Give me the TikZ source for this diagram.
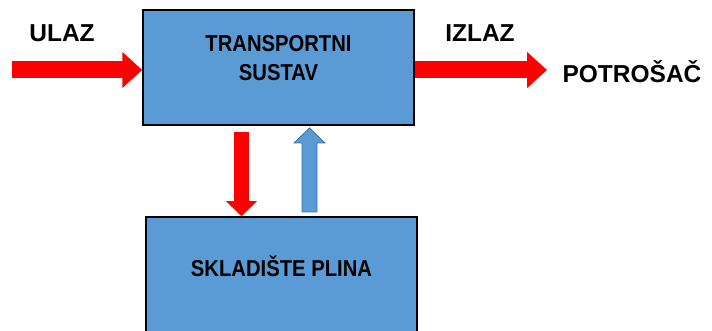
\documentclass[tikz,border=0pt]{standalone}
\usepackage{fontspec}
\setmainfont{Liberation Sans}
\newfontfamily\boxfont{Liberation Sans}[FakeStretch=0.88]
\usetikzlibrary{calc,arrows.meta}

\definecolor{boxblue}{HTML}{5B9BD5}
\definecolor{edgeblue}{HTML}{41719C}

\tikzset{
  sysbox/.style={draw=black, line width=1.5pt, fill=boxblue, inner sep=0pt},
  boxtext/.style={font=\boxfont\bfseries\fontsize{23}{29}\selectfont, align=center},
  sidetext/.style={font=\bfseries\fontsize{24.5}{28}\selectfont},
  sideflow/.style={draw=red, line width=17pt, -{Triangle[width=35pt,length=20pt]}},
  downflow/.style={draw=red, line width=15pt, -{Triangle[width=30pt,length=15pt]}},
  backflow/.style={draw=edgeblue, line width=0.8pt, fill=boxblue, line join=miter},
}

\begin{document}
\begin{tikzpicture}[x=1pt, y=-1pt]
  \useasboundingbox (0,0) rectangle (712,331);
  \clip (0,0) rectangle (712,331);

  %%%%% boxes %%%%%
  \node[sysbox, minimum width=271pt, minimum height=115pt] (transport) at (278.5,67.5) {};
  \node[boxtext] (transporttext) at ([yshift=9pt]transport.center) {TRANSPORTNI\\SUSTAV};

  \node[sysbox, minimum width=271pt, minimum height=146pt] (skladiste) at (281.5,290) {};
  \node[boxtext] (skladistetext) at ([yshift=24pt]skladiste.center) {SKLADIŠTE PLINA};

  %%%%% side labels %%%%%
  \node[sidetext] (ulaz) at (62,33) {ULAZ};
  \node[sidetext] (izlaz) at (480,33) {IZLAZ};
  \node[sidetext] (potrosac) at (632,72) {POTROŠAČ};

  %%%%% flows %%%%%
  \coordinate (inflow) at (12,70);
  \coordinate (outflow) at (547,70);
  \draw[sideflow] (inflow) -- (transport.west |- inflow);
  \draw[sideflow] (transport.east |- outflow) -- (outflow);

  \coordinate (downstart) at (241.5,132);
  \draw[downflow] (downstart) -- (downstart |- skladiste.north);

  \coordinate (upfoot) at (309.5,212);
  \coordinate (uptip) at (309.5,128);
  \draw[backflow] ($(upfoot)+(-7.5,0)$) -- ($(upfoot)+(7.5,0)$)
    -- ($(uptip)+(7.5,15)$) -- ($(uptip)+(15.5,15)$) -- (uptip)
    -- ($(uptip)+(-15.5,15)$) -- ($(uptip)+(-7.5,15)$) -- cycle;
\end{tikzpicture}
\end{document}
